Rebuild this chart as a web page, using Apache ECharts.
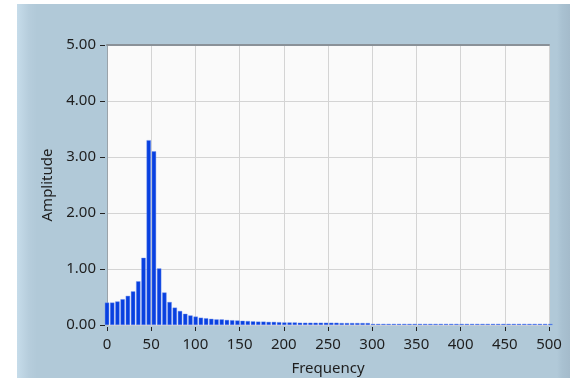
<!DOCTYPE html>
<html>
<head>
<meta charset="utf-8">
<script src="https://cdn.jsdelivr.net/npm/echarts@6/dist/echarts.min.js"></script>
<style>
  html, body { margin: 0; padding: 0; width: 570px; height: 378px; background: #ffffff; overflow: hidden; }
  #panel { position: absolute; left: 17px; top: 4px; width: 553px; height: 374px;
    background: linear-gradient(to right, #c6dcea 0px, #b6cddc 12px, #b1c9d8 20px, #b1c9d8 540px, #a9c1d1 545px, #a4bbcb 553px); }
  #chart { position: absolute; left: 0; top: 0; width: 570px; height: 378px; }
</style>
</head>
<body>
<div id="panel"></div>
<div id="chart"></div>
<script>
// Frequency axis ticks and amplitude axis ticks
const xTicks = [0, 50, 100, 150, 200, 250, 300, 350, 400, 450, 500];
const yTicks = [0, 1, 2, 3, 4, 5];
// Spectrum bin spacing (Hz) and amplitudes, one per bin
const binSpacingHz = 5.9;
const amplitudes = [
  0.40, 0.40, 0.42, 0.46, 0.52, 0.60, 0.78, 1.20, 3.30, 3.10,
  1.01, 0.58, 0.41, 0.31, 0.25, 0.20, 0.17, 0.15, 0.13, 0.12,
  0.11, 0.10, 0.10, 0.09, 0.085, 0.08, 0.075, 0.07, 0.065, 0.06,
  0.06, 0.055, 0.055, 0.05, 0.045, 0.045, 0.045, 0.04, 0.04, 0.04,
  0.04, 0.04, 0.04, 0.04, 0.04, 0.035, 0.035, 0.035, 0.035, 0.035,
  0.035, 0.02, 0.02, 0.02, 0.02, 0.02, 0.02, 0.02, 0.02, 0.02,
  0.02, 0.02, 0.02, 0.02, 0.02, 0.02, 0.02, 0.02, 0.02, 0.02,
  0.02, 0.02, 0.02, 0.02, 0.02, 0.02, 0.02, 0.02, 0.02, 0.02,
  0.02, 0.02, 0.02, 0.02, 0.02, 0.02
];
const xName = 'Frequency';
const yName = 'Amplitude';

const points = amplitudes.map((a, i) => [i * binSpacingHz, a]);
const FONT = 'Noto Sans';
const FS = 15;

const chart = echarts.init(document.getElementById('chart'), null, { renderer: 'canvas' });
chart.setOption({
  backgroundColor: 'transparent',
  animation: false,
  grid: {
    left: 107, right: 21, top: 45, bottom: 53,
    outerBoundsMode: 'none', containLabel: false,
    show: true, backgroundColor: '#fafafa', borderWidth: 0
  },
  xAxis: [{
    type: 'value', min: xTicks[0], max: xTicks[xTicks.length - 1], interval: 50,
    offset: 2,
    name: xName, nameLocation: 'middle', nameGap: 34,
    nameTextStyle: { color: '#1e1e1e', fontFamily: FONT, fontSize: FS },
    axisLine: { show: true, onZero: false, lineStyle: { color: 'rgba(0,0,0,0)', width: 1 } },
    axisTick: { show: true, inside: false, length: 4, lineStyle: { color: '#222', width: 1 } },
    axisLabel: { color: '#1e1e1e', fontFamily: FONT, fontSize: FS, margin: 10 },
    splitLine: { show: true, lineStyle: { color: '#d4d4d4', width: 1 } }
  }, {
    type: 'value', position: 'top', min: 0, max: 500,
    axisLine: { show: true, onZero: false, lineStyle: { color: '#8a9198', width: 2 } },
    axisTick: { show: false }, axisLabel: { show: false }, splitLine: { show: false }
  }],
  yAxis: [{
    type: 'value', min: yTicks[0], max: yTicks[yTicks.length - 1], interval: 1,
    offset: 2,
    name: yName, nameLocation: 'middle', nameGap: 49, nameRotate: 90,
    nameTextStyle: { color: '#1e1e1e', fontFamily: FONT, fontSize: FS },
    axisLine: { show: true, onZero: false, lineStyle: { color: 'rgba(0,0,0,0)', width: 1 } },
    axisTick: { show: true, inside: false, length: 5, lineStyle: { color: '#222', width: 1 } },
    axisLabel: { color: '#1e1e1e', fontFamily: FONT, fontSize: FS, margin: 9,
      formatter: v => v.toFixed(2) },
    splitLine: { show: true, lineStyle: { color: '#d4d4d4', width: 1 } }
  }, {
    type: 'value', position: 'left', min: 0, max: 5,
    axisLine: { show: true, onZero: false, lineStyle: { color: '#9aa3aa', width: 1 } },
    axisTick: { show: false }, axisLabel: { show: false }, splitLine: { show: false }
  }],
  series: [{
    type: 'bar',
    xAxisIndex: 0, yAxisIndex: 0,
    data: points,
    barWidth: 4.3,
    clip: true,
    itemStyle: { color: '#0840e0', borderColor: '#6f8ff0', borderWidth: 0.4 }
  }]
});
</script>
</body>
</html>
